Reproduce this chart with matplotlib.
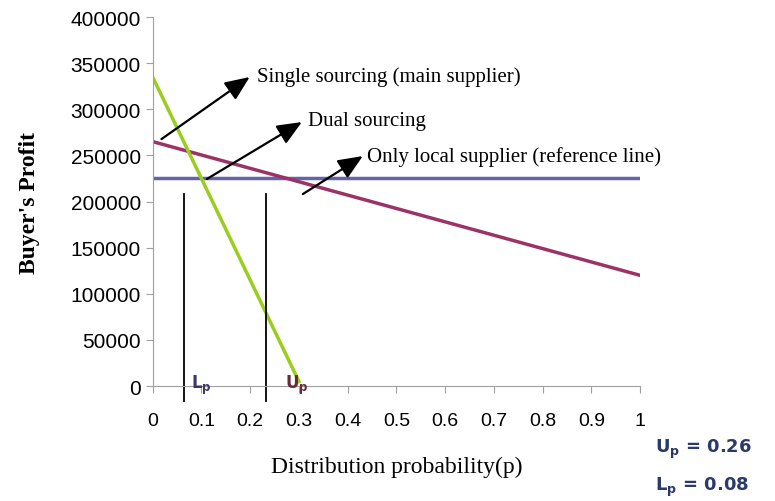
import matplotlib
matplotlib.use('Agg')
import matplotlib.pyplot as plt

# === Data ===
p_single = [0, 0.1, 0.2, 0.3]
profit_single = [335000, 225000, 115000, 5000]
p_dual = [0, 1]
profit_dual = [265000, 120000]
p_local = [0, 1]
profit_local = [226000, 226000]
bound_x = [0.064, 0.232]
bound_names = [r'$\mathbf{L_p}$', r'$\mathbf{U_p}$']
x_ticks = [0, 0.1, 0.2, 0.3, 0.4, 0.5, 0.6, 0.7, 0.8, 0.9, 1]
y_ticks = [0, 50000, 100000, 150000, 200000, 250000, 300000, 350000, 400000]

fig = plt.figure(figsize=(7.75, 5.02), dpi=100)
ax = fig.add_axes([0.197, 0.229, 0.629, 0.735])

ax.plot(p_local, profit_local, color='#6464a8', lw=2.5)
ax.plot(p_dual, profit_dual, color='#9b3366', lw=2.5)
ax.plot(p_single, profit_single, color='#9acd1e', lw=2.5)

# vertical bounds L_p and U_p
for bx in bound_x:
    ax.plot([bx, bx], [208000, -16000], color='black', lw=1.3, clip_on=False)
ax.text(0.078, 2000, bound_names[0], fontsize=12, color='#3a3a6a', va='center')
ax.text(0.272, 2000, bound_names[1], fontsize=12, color='#6a2a3a', va='center')

ax.set_xlim(0, 1)
ax.set_ylim(0, 400000)
ax.set_xticks(x_ticks)
ax.set_xticklabels([f'{t:g}' for t in x_ticks], family='Liberation Sans', fontsize=14)
ax.set_yticks(y_ticks)
ax.set_yticklabels([str(t) for t in y_ticks], family='Liberation Sans', fontsize=15)
for s in ['top', 'right']:
    ax.spines[s].set_visible(False)
for s in ['left', 'bottom']:
    ax.spines[s].set_color('#a0a0a0')
ax.tick_params(axis='both', color='#a0a0a0', length=5)
ax.tick_params(axis='x', pad=14)

ax.set_xlabel('Distribution probability(p)', family='Liberation Serif', fontsize=17, labelpad=19)
ax.set_ylabel("Buyer's Profit", family='Liberation Serif', fontsize=17, fontweight='bold', labelpad=22)

# arrows with labels
arrow = dict(arrowstyle='-|>,head_length=0.75,head_width=0.32', color='black', lw=1.6,
             mutation_scale=20, shrinkA=0, shrinkB=0)
ax.annotate('', xy=(0.199, 335000), xytext=(0.018, 267700), arrowprops=arrow)
ax.text(0.214, 336000, 'Single sourcing (main supplier)', fontsize=15,
        family='Liberation Serif', va='center')
ax.annotate('', xy=(0.306, 286200), xytext=(0.111, 224400), arrowprops=arrow)
ax.text(0.318, 288300, 'Dual sourcing', fontsize=15, family='Liberation Serif', va='center')
ax.annotate('', xy=(0.431, 249300), xytext=(0.308, 208100), arrowprops=arrow)
ax.text(0.439, 249300, 'Only local supplier (reference line)', fontsize=15,
        family='Liberation Serif', va='center')

# bound values
fig.text(0.845, 0.098, r'$\mathbf{U_p}$ = 0.26', fontsize=13, fontweight='bold', color='#2a3a6a')
fig.text(0.845, 0.022, r'$\mathbf{L_p}$ = 0.08', fontsize=13, fontweight='bold', color='#2a3a6a')

plt.savefig('out.png', dpi=100)
